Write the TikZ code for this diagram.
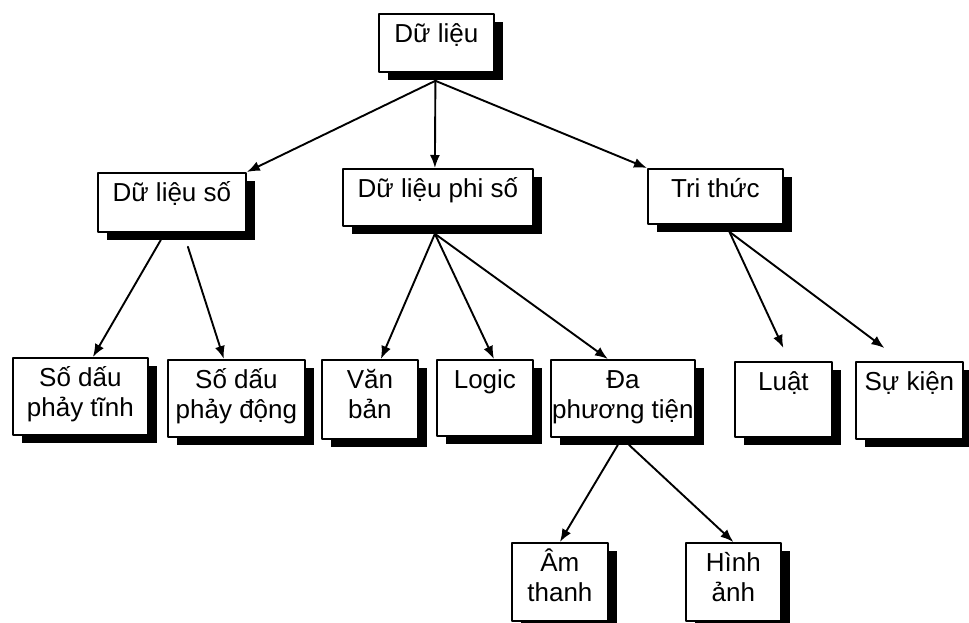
\documentclass[tikz,border=0pt]{standalone}
\usepackage{fontspec}
\setmainfont{Liberation Sans}
\usetikzlibrary{arrows.meta,shadows,calc}

\newcommand{\dongdau}{\rule{0pt}{29pt}}

\begin{document}
\begin{tikzpicture}[x=1pt, y=-1pt, line cap=round, line join=round,
    >={Latex[length=13pt,width=10pt]},
    khung/.style={draw, line width=1.8pt, fill=white, inner sep=0pt, anchor=north west,
      drop shadow={shadow xshift=9pt, shadow yshift=-8pt, fill=black, opacity=1}},
    chu/.style={anchor=north, inner sep=0pt, align=center,
      font=\fontsize{26}{30}\selectfont},
    mui/.style={->, line width=1.9pt}]
  \useasboundingbox (0,0) rectangle (969,622);

  % Cac khung: ten/x/y/rong/cao/chu
  \foreach \ten/\x/\y/\w/\h/\chu in {
      dulieu/378/13/115/58/{Dữ liệu},
      so/97/172/148/59/{Dữ liệu số},
      phiso/342/168/190/57/{Dữ liệu phi số},
      trithuc/647/168/135/55/{Tri thức},
      phaytinh/12/357/135/77/{Số dấu\\phảy tĩnh},
      phaydong/167/359/137/77/{Số dấu\\phảy động},
      vanban/321/359/96/79/{Văn\\bản},
      logic/436/359/96/76/{Logic},
      da/550/359/144/77/{Đa\\phương tiện},
      luat/734/361/97/75/{Luật},
      sukien/855/361/107/77/{Sự kiện},
      amthanh/511/542/96/78/{Âm\\thanh},
      hinhanh/685/542/95/78/{Hình\\ảnh}}{
    \node[khung, minimum width=\w, minimum height=\h] (\ten) at (\x,\y) {};
    \node[chu] (\ten-chu) at (\ten.north) {\dongdau\chu};
  }

  % Diem xuat phat cua cac mui ten
  \coordinate (dulieu-goc) at ($(dulieu.south)+(-1,8)$);
  \coordinate (phiso-goc) at ($(phiso.south)+(-3,7)$);
  \coordinate (trithuc-goc) at ($(trithuc.south)+(14,7)$);

  % Tang 1
  \draw[mui] (dulieu-goc) -- (so.north east);
  \draw[mui] (dulieu-goc) -- ($(phiso.north)+(-3,0)$);
  \draw[mui] (dulieu-goc) -- (trithuc.north west);

  % Du lieu so
  \draw[mui] ($(so.south)+(-11,7)$) -- ($(phaytinh.north)+(12.5,0)$);
  \draw[mui] ($(so.south)+(16,14)$) -- ($(phaydong.north)+(-12.5,0)$);

  % Du lieu phi so
  \draw[mui] (phiso-goc) -- ($(vanban.north)+(11,0)$);
  \draw[mui] (phiso-goc) -- ($(logic.north)+(9,0)$);
  \draw[mui] (phiso-goc) -- ($(da.north)+(-15,0)$);

  % Tri thuc (mui ten dung truoc khung)
  \draw[mui] (trithuc-goc) -- ($(luat.north)+(0,-13)$);
  \draw[mui] (trithuc-goc) -- ($(sukien.north)+(-25,-13)$);

  % Da phuong tien
  \draw[mui] ($(da.south)+(-5,7)$) -- (amthanh.north);
  \draw[mui] ($(da.south)+(6,7)$) -- (hinhanh.north);
\end{tikzpicture}
\end{document}
